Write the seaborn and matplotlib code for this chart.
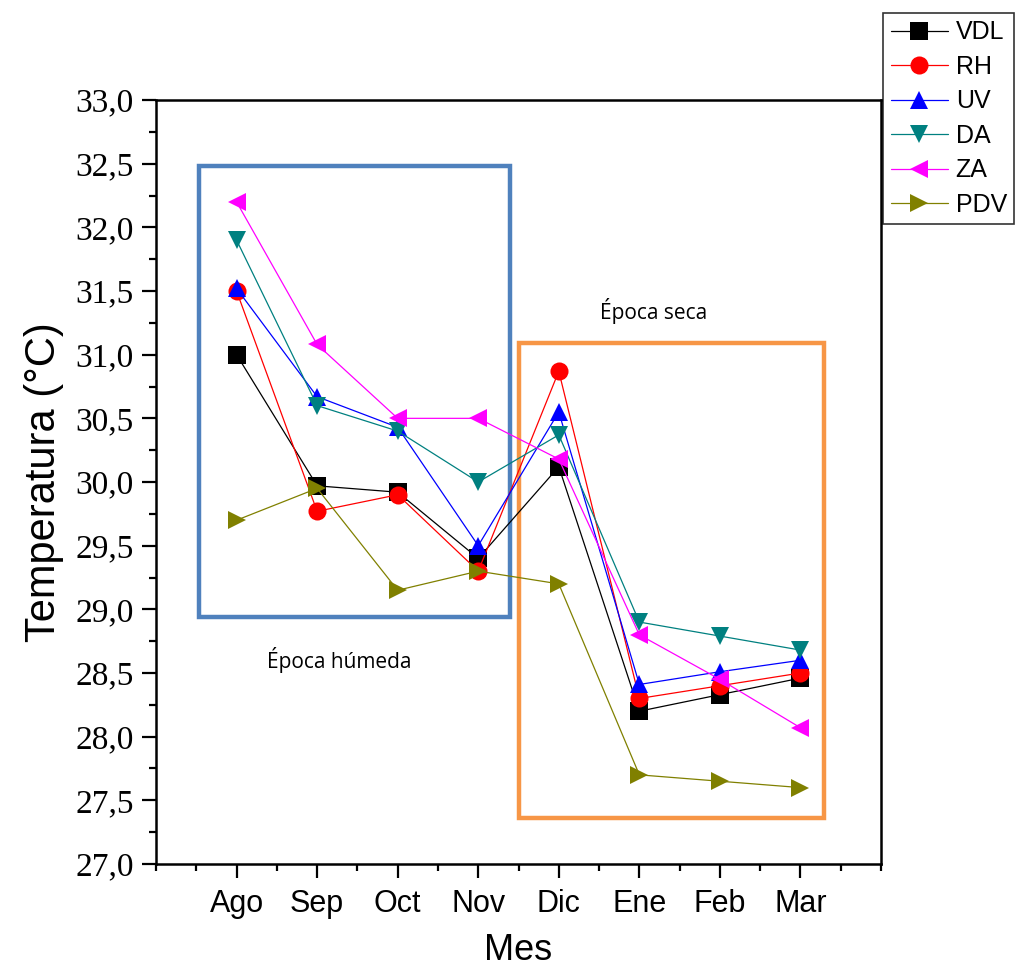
import numpy as np
import pandas as pd
import seaborn as sns
import matplotlib.pyplot as plt
from matplotlib.patches import Rectangle
from matplotlib.ticker import MultipleLocator, FuncFormatter

months = ["Ago", "Sep", "Oct", "Nov", "Dic", "Ene", "Feb", "Mar"]
series = ["VDL", "RH", "UV", "DA", "ZA", "PDV"]
vdl = [31.00, 29.97, 29.92, 29.40, 30.12, 28.20, 28.33, 28.46]
rh = [31.50, 29.77, 29.90, 29.30, 30.87, 28.30, 28.40, 28.50]
uv = [31.52, 30.67, 30.43, 29.50, 30.55, 28.41, 28.51, 28.60]
da = [31.90, 30.60, 30.40, 30.00, 30.37, 28.90, 28.79, 28.68]
za = [32.20, 31.08, 30.50, 30.50, 30.18, 28.80, 28.45, 28.07]
pdv = [29.70, 29.95, 29.15, 29.30, 29.20, 27.70, 27.65, 27.60]

colors = ["#000000", "#ff0000", "#0000ff", "#008080", "#ff00ff", "#808000"]
marks = ["s", "o", "^", "v", "<", ">"]

# season boxes (x0, y0, x1, y1) in data units
wet_box = (0.53, 28.94, 4.40, 32.48)
dry_box = (4.51, 27.36, 8.29, 31.09)

pos = np.arange(1, len(months) + 1)
df = pd.DataFrame({"x": np.tile(pos, len(series)),
                   "Temp": np.concatenate([vdl, rh, uv, da, za, pdv]),
                   "Sitio": np.repeat(series, len(months))})

sns.set_style("ticks", {"axes.edgecolor": "black", "xtick.color": "black",
                        "ytick.color": "black", "text.color": "black",
                        "axes.labelcolor": "black"})
plt.rcParams['font.family'] = ['Liberation Sans', 'DejaVu Sans']

fig = plt.figure(figsize=(10.21, 9.71), dpi=100)
ax = fig.add_axes([0.1528, 0.1102, 0.7101, 0.7868])

sns.lineplot(data=df, x="x", y="Temp", hue="Sitio", style="Sitio",
             palette=dict(zip(series, colors)), markers=dict(zip(series, marks)),
             dashes=False, markersize=13, linewidth=0.9, markeredgewidth=0,
             ax=ax)

for (x0, y0, x1, y1), c in [(wet_box, "#4f81bd"), (dry_box, "#f79646")]:
    ax.add_patch(Rectangle((x0, y0), x1 - x0, y1 - y0, fill=False,
                           edgecolor=c, linewidth=3.2, zorder=1))

ax.text(2.28, 28.6, "Época húmeda", ha="center", va="center", fontsize=15,
        family="Open Sans")
ax.text(6.18, 31.34, "Época seca", ha="center", va="center", fontsize=15,
        family="Open Sans")

ax.set_xlim(0, 9)
ax.set_ylim(27, 33)
ax.set_xticks(pos)
ax.set_xticklabels(months, fontsize=22)
ax.xaxis.set_minor_locator(MultipleLocator(0.5))
ax.yaxis.set_major_locator(MultipleLocator(0.5))
ax.yaxis.set_minor_locator(MultipleLocator(0.25))
ax.yaxis.set_major_formatter(FuncFormatter(lambda v, p: f"{v:.1f}".replace(".", ",")))
for lab in ax.get_yticklabels():
    lab.set_family("Liberation Serif")
    lab.set_fontsize(24)
ax.tick_params(which="major", length=10, width=1.6, direction="out", pad=6)
ax.tick_params(axis="x", which="major", pad=8)
ax.tick_params(which="minor", length=5, width=1.6, direction="out")
ax.tick_params(axis="x", which="both", top=False)
ax.tick_params(axis="y", which="both", right=False)
for s in ax.spines.values():
    s.set_linewidth(1.8)
    s.set_visible(True)

ax.set_xlabel("Mes", fontsize=26, labelpad=10)
ax.set_ylabel("Temperatura (°C)", fontsize=30, labelpad=8)

leg = ax.legend(loc="upper left", bbox_to_anchor=(1.003, 1.114), fontsize=18,
                frameon=True, fancybox=False, edgecolor="black",
                handlelength=2.3, borderpad=0.3, labelspacing=0.42,
                handletextpad=0.3, borderaxespad=0)
leg.get_frame().set_linewidth(1.2)

fig.savefig("out.png", dpi=100)
